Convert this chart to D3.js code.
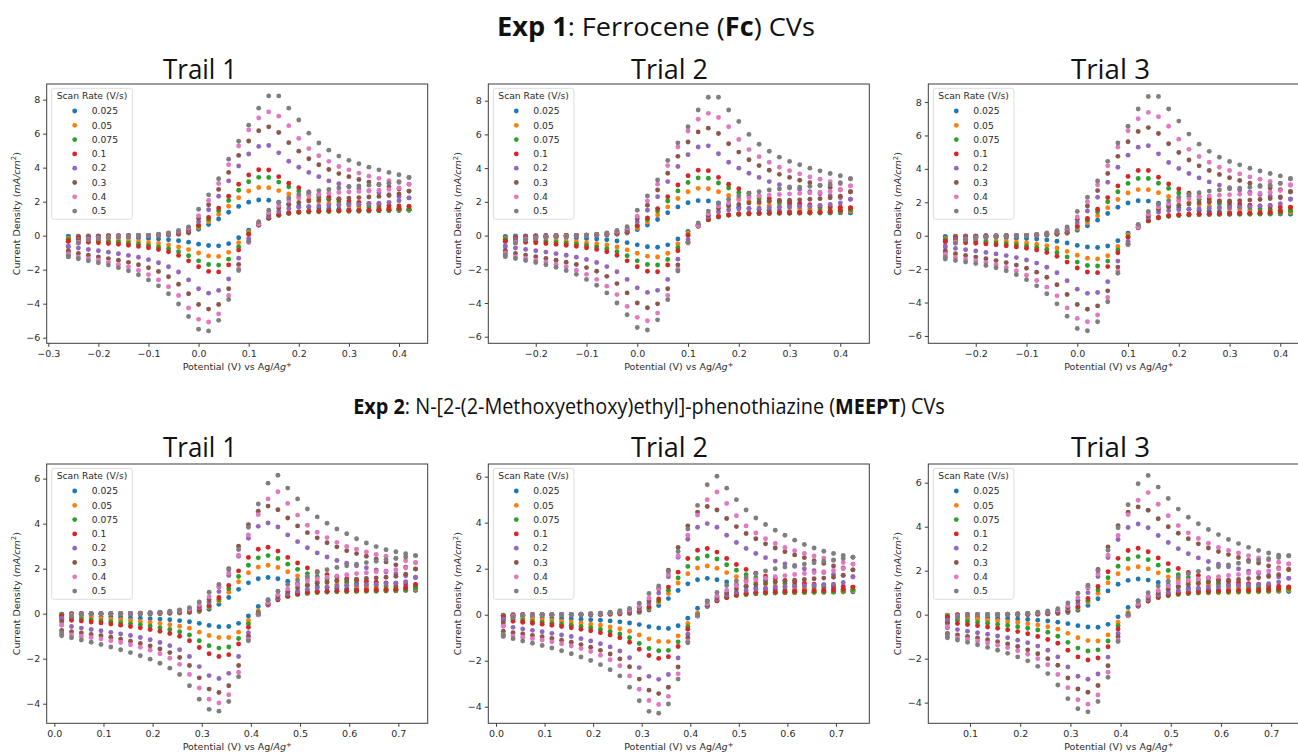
<!DOCTYPE html>
<html>
<head>
<meta charset="utf-8">
<script src="https://cdn.jsdelivr.net/npm/d3@7"></script>
<style>
  body { margin: 0; background: #fff; }
  svg { display: block; }
</style>
</head>
<body>
<svg width="1298" height="755"></svg>
<script>
// scan rates (legend) and their colours
const scanRates = ["0.025", "0.05", "0.075", "0.1", "0.2", "0.3", "0.4", "0.5"];
const seriesColors = ["#1f77b4", "#ff7f0e", "#2ca02c", "#d62728", "#9467bd", "#8c564b", "#e377c2", "#7f7f7f"];

const fcPotential = [-0.26,-0.24,-0.22,-0.2,-0.18,-0.16,-0.14,-0.12,-0.1,-0.08,-0.06,-0.04,-0.02,0,0.02,0.04,0.06,0.08,0.1,0.12,0.14,0.16,0.18,0.2,0.22,0.24,0.26,0.28,0.3,0.32,0.34,0.36,0.38,0.4,0.42];
const meeptPotential = [0.015,0.035,0.055,0.075,0.095,0.115,0.135,0.155,0.175,0.195,0.215,0.235,0.255,0.275,0.295,0.315,0.335,0.355,0.375,0.395,0.415,0.435,0.455,0.475,0.495,0.515,0.535,0.555,0.575,0.595,0.615,0.635,0.655,0.675,0.695,0.715,0.735];
const meeptPotentialT3 = [0.055,0.075,0.095,0.115,0.135,0.155,0.175,0.195,0.215,0.235,0.255,0.275,0.295,0.315,0.335,0.355,0.375,0.395,0.415,0.435,0.455,0.475,0.495,0.515,0.535,0.555,0.575,0.595,0.615,0.635,0.655,0.675,0.695,0.715,0.735];

// current density (mA/cm2), one row per scan rate; forward = anodic sweep, reverse = cathodic sweep
const fcTrial1Forward = [
  [-0.05,-0.03,-0.02,-0.01,0,0,0,0,0.01,0.02,0.04,0.08,0.15,0.38,0.65,0.98,1.38,1.72,1.97,2.1,2.08,1.97,1.85,1.75,1.68,1.62,1.58,1.55,1.53,1.52,1.51,1.5,1.5,1.5,1.5],
  [-0.17,-0.08,-0.05,-0.03,-0.02,-0.01,0,0,0.01,0.03,0.06,0.1,0.18,0.48,0.83,1.25,1.73,2.23,2.63,2.83,2.82,2.65,2.45,2.27,2.12,2.0,1.9,1.82,1.75,1.7,1.65,1.61,1.58,1.55,1.52],
  [-0.24,-0.1,-0.06,-0.04,-0.02,-0.01,0,0.01,0.02,0.04,0.07,0.12,0.2,0.57,0.97,1.47,2.07,2.67,3.17,3.43,3.42,3.15,2.87,2.62,2.42,2.25,2.12,2.0,1.9,1.82,1.75,1.69,1.64,1.6,1.56],
  [-0.33,-0.12,-0.07,-0.04,-0.02,-0.01,0,0.01,0.02,0.04,0.08,0.13,0.22,0.62,1.07,1.62,2.32,3.02,3.57,3.88,3.86,3.47,3.08,2.82,2.57,2.4,2.26,2.14,2.04,1.96,1.89,1.83,1.78,1.75,1.72],
  [-0.62,-0.22,-0.12,-0.08,-0.05,-0.03,-0.02,0,0.02,0.05,0.1,0.18,0.3,0.82,1.52,2.32,3.22,4.1,4.8,5.25,5.3,4.87,4.38,4.02,3.72,3.47,3.22,3.05,2.9,2.78,2.64,2.52,2.41,2.3,2.22],
  [-0.9,-0.3,-0.18,-0.12,-0.08,-0.05,-0.03,-0.01,0.02,0.06,0.12,0.22,0.38,1.02,1.82,2.72,3.72,4.72,5.57,6.17,6.4,6.07,5.47,4.97,4.52,4.17,3.89,3.65,3.47,3.3,3.15,3.0,2.87,2.74,2.62],
  [-1.08,-0.38,-0.22,-0.15,-0.1,-0.06,-0.04,-0.02,0.02,0.07,0.14,0.26,0.45,1.17,2.07,3.07,4.17,5.27,6.22,6.92,7.28,7.03,6.47,5.72,5.12,4.7,4.37,4.07,3.87,3.68,3.5,3.37,3.24,3.12,3.02],
  [-1.2,-0.45,-0.26,-0.18,-0.12,-0.08,-0.05,-0.02,0.02,0.08,0.16,0.3,0.52,1.55,2.4,3.35,4.5,5.55,6.5,7.5,8.22,8.22,7.5,6.8,6.03,5.45,5.03,4.68,4.43,4.23,4.03,3.87,3.72,3.58,3.42]
];
const fcTrial1Reverse = [
  [-0.05,-0.06,-0.07,-0.08,-0.09,-0.1,-0.12,-0.14,-0.16,-0.19,-0.24,-0.3,-0.38,-0.5,-0.58,-0.6,-0.47,-0.12,0.32,0.72,1.02,1.2,1.32,1.38,1.42,1.44,1.45,1.46,1.46,1.47,1.47,1.47,1.48,1.48,1.49],
  [-0.16,-0.18,-0.2,-0.22,-0.25,-0.28,-0.31,-0.35,-0.4,-0.46,-0.54,-0.66,-0.82,-1.02,-1.19,-1.22,-0.98,-0.42,0.22,0.72,1.03,1.22,1.33,1.39,1.42,1.44,1.45,1.46,1.46,1.47,1.47,1.48,1.49,1.5,1.52],
  [-0.23,-0.26,-0.29,-0.32,-0.35,-0.39,-0.44,-0.5,-0.57,-0.66,-0.77,-0.94,-1.18,-1.48,-1.7,-1.73,-1.38,-0.66,0.12,0.68,1.02,1.2,1.3,1.36,1.39,1.41,1.42,1.43,1.44,1.44,1.45,1.46,1.48,1.52,1.56],
  [-0.33,-0.36,-0.39,-0.42,-0.46,-0.51,-0.56,-0.63,-0.71,-0.81,-0.95,-1.16,-1.48,-1.83,-2.1,-2.13,-1.72,-0.85,0.07,0.68,1.04,1.23,1.34,1.4,1.43,1.45,1.46,1.47,1.48,1.49,1.5,1.52,1.55,1.61,1.72],
  [-0.65,-0.73,-0.81,-0.89,-0.97,-1.06,-1.16,-1.27,-1.41,-1.59,-1.83,-2.14,-2.6,-3.12,-3.38,-3.22,-2.55,-1.33,-0.18,0.62,1.12,1.42,1.58,1.67,1.72,1.75,1.78,1.8,1.82,1.84,1.87,1.91,1.96,2.05,2.22],
  [-0.95,-1.05,-1.15,-1.25,-1.35,-1.45,-1.57,-1.71,-1.89,-2.11,-2.42,-2.86,-3.42,-4.05,-4.32,-4.05,-3.12,-1.7,-0.35,0.62,1.25,1.62,1.82,1.95,2.04,2.1,2.15,2.18,2.21,2.24,2.27,2.31,2.36,2.45,2.62],
  [-1.15,-1.25,-1.35,-1.45,-1.56,-1.69,-1.84,-2.04,-2.29,-2.6,-3.0,-3.52,-4.25,-4.92,-5.08,-4.6,-3.52,-1.95,-0.4,0.68,1.35,1.78,2.05,2.22,2.35,2.44,2.5,2.54,2.57,2.6,2.63,2.67,2.72,2.8,3.02],
  [-1.25,-1.36,-1.48,-1.6,-1.73,-1.88,-2.07,-2.3,-2.6,-2.95,-3.42,-4.02,-4.75,-5.5,-5.6,-4.98,-3.75,-2.05,-0.35,0.82,1.5,1.95,2.22,2.42,2.55,2.65,2.72,2.8,2.86,2.92,2.97,3.02,3.08,3.18,3.42]
];

const fcTrial2Forward = [
  [-0.06,-0.03,-0.02,-0.01,0,0,0,0,0.01,0.02,0.04,0.08,0.15,0.35,0.62,0.95,1.35,1.7,1.95,2.07,2.05,1.93,1.8,1.68,1.6,1.54,1.5,1.46,1.43,1.41,1.39,1.38,1.37,1.36,1.35],
  [-0.18,-0.08,-0.05,-0.03,-0.02,-0.01,0,0,0.01,0.03,0.06,0.1,0.18,0.45,0.8,1.22,1.7,2.2,2.6,2.8,2.78,2.6,2.38,2.18,2.02,1.9,1.8,1.72,1.66,1.6,1.56,1.53,1.5,1.47,1.45],
  [-0.25,-0.1,-0.06,-0.04,-0.02,-0.01,0,0.01,0.02,0.04,0.07,0.12,0.2,0.55,0.95,1.45,2.05,2.65,3.15,3.42,3.4,3.12,2.82,2.56,2.35,2.18,2.05,1.94,1.85,1.78,1.72,1.67,1.63,1.59,1.55],
  [-0.34,-0.12,-0.07,-0.04,-0.02,-0.01,0,0.01,0.02,0.04,0.08,0.13,0.22,0.6,1.05,1.6,2.3,3.0,3.55,3.87,3.85,3.45,3.05,2.78,2.52,2.34,2.2,2.08,1.98,1.9,1.83,1.77,1.72,1.68,1.65],
  [-0.6,-0.22,-0.12,-0.08,-0.05,-0.03,-0.02,0,0.02,0.05,0.1,0.18,0.3,0.8,1.5,2.3,3.2,4.1,4.8,5.25,5.32,4.85,4.35,4.0,3.7,3.45,3.2,3.02,2.88,2.75,2.6,2.48,2.36,2.25,2.15],
  [-0.88,-0.3,-0.18,-0.12,-0.08,-0.05,-0.03,-0.01,0.02,0.06,0.12,0.22,0.38,1.0,1.8,2.7,3.7,4.7,5.55,6.15,6.37,6.05,5.45,4.95,4.5,4.15,3.87,3.63,3.45,3.28,3.13,2.98,2.85,2.72,2.6],
  [-1.05,-0.38,-0.22,-0.15,-0.1,-0.06,-0.04,-0.02,0.02,0.07,0.14,0.26,0.45,1.15,2.05,3.05,4.15,5.25,6.2,6.9,7.25,7.0,6.45,5.7,5.1,4.68,4.35,4.05,3.85,3.66,3.48,3.34,3.2,3.07,2.95],
  [-1.15,-0.45,-0.26,-0.18,-0.12,-0.08,-0.05,-0.02,0.02,0.08,0.16,0.3,0.52,1.5,2.35,3.3,4.45,5.5,6.45,7.45,8.2,8.2,7.45,6.77,6.0,5.42,5.0,4.65,4.4,4.2,4.0,3.84,3.68,3.55,3.37]
];
const fcTrial2Reverse = [
  [-0.06,-0.07,-0.08,-0.09,-0.1,-0.11,-0.13,-0.15,-0.17,-0.2,-0.25,-0.32,-0.42,-0.55,-0.66,-0.69,-0.55,-0.2,0.25,0.65,0.95,1.12,1.22,1.28,1.31,1.32,1.33,1.33,1.33,1.34,1.34,1.34,1.34,1.35,1.35],
  [-0.18,-0.2,-0.22,-0.24,-0.27,-0.3,-0.33,-0.37,-0.42,-0.48,-0.56,-0.68,-0.85,-1.05,-1.23,-1.27,-1.05,-0.5,0.15,0.65,0.95,1.12,1.22,1.28,1.31,1.33,1.34,1.35,1.35,1.36,1.36,1.37,1.38,1.4,1.45],
  [-0.25,-0.28,-0.31,-0.34,-0.37,-0.41,-0.46,-0.51,-0.58,-0.67,-0.78,-0.95,-1.2,-1.5,-1.72,-1.75,-1.42,-0.72,0.05,0.6,0.93,1.1,1.2,1.25,1.28,1.3,1.31,1.32,1.32,1.33,1.34,1.35,1.37,1.42,1.53],
  [-0.34,-0.37,-0.4,-0.43,-0.47,-0.52,-0.57,-0.64,-0.72,-0.82,-0.96,-1.17,-1.5,-1.85,-2.12,-2.15,-1.75,-0.9,0.0,0.6,0.95,1.13,1.23,1.28,1.31,1.33,1.34,1.35,1.36,1.37,1.38,1.4,1.43,1.5,1.63],
  [-0.66,-0.74,-0.82,-0.9,-0.98,-1.07,-1.17,-1.28,-1.42,-1.6,-1.84,-2.15,-2.6,-3.1,-3.37,-3.25,-2.6,-1.4,-0.25,0.55,1.1,1.4,1.52,1.58,1.61,1.63,1.66,1.68,1.7,1.72,1.75,1.79,1.84,1.93,2.15],
  [-0.96,-1.06,-1.16,-1.26,-1.36,-1.46,-1.58,-1.72,-1.9,-2.12,-2.42,-2.85,-3.4,-4.0,-4.28,-4.05,-3.15,-1.75,-0.4,0.55,1.2,1.6,1.75,1.85,1.93,1.99,2.04,2.07,2.1,2.12,2.15,2.19,2.24,2.33,2.6],
  [-1.16,-1.26,-1.36,-1.46,-1.57,-1.7,-1.85,-2.05,-2.3,-2.6,-3.0,-3.5,-4.2,-4.85,-5.05,-4.6,-3.55,-2.0,-0.45,0.6,1.3,1.75,1.95,2.12,2.25,2.35,2.4,2.44,2.47,2.5,2.53,2.57,2.62,2.7,2.95],
  [-1.25,-1.36,-1.48,-1.6,-1.73,-1.88,-2.07,-2.3,-2.6,-2.95,-3.4,-4.0,-4.7,-5.45,-5.6,-5.0,-3.8,-2.1,-0.4,0.75,1.45,1.9,2.15,2.35,2.5,2.6,2.7,2.76,2.82,2.87,2.92,2.97,3.03,3.13,3.37]
];

const fcTrial3Forward = [
  [-0.06,-0.03,-0.02,-0.01,0,0,0,0,0.01,0.02,0.04,0.08,0.15,0.33,0.6,0.93,1.33,1.7,1.96,2.09,2.07,1.94,1.8,1.67,1.58,1.51,1.46,1.42,1.39,1.37,1.35,1.33,1.32,1.31,1.3],
  [-0.18,-0.08,-0.05,-0.03,-0.02,-0.01,0,0,0.01,0.03,0.06,0.1,0.18,0.43,0.78,1.2,1.68,2.17,2.56,2.76,2.75,2.57,2.35,2.14,1.98,1.86,1.76,1.68,1.62,1.56,1.52,1.48,1.45,1.42,1.4],
  [-0.25,-0.1,-0.06,-0.04,-0.02,-0.01,0,0.01,0.02,0.04,0.07,0.12,0.2,0.53,0.93,1.43,2.03,2.63,3.13,3.42,3.42,3.14,2.83,2.56,2.34,2.16,2.02,1.91,1.82,1.74,1.67,1.61,1.57,1.53,1.5],
  [-0.35,-0.12,-0.07,-0.04,-0.02,-0.01,0,0.01,0.02,0.04,0.08,0.13,0.22,0.58,1.03,1.58,2.28,2.98,3.55,3.9,3.9,3.5,3.1,2.8,2.54,2.35,2.2,2.08,1.98,1.9,1.83,1.78,1.74,1.72,1.7],
  [-0.62,-0.22,-0.12,-0.08,-0.05,-0.03,-0.02,0,0.02,0.05,0.1,0.18,0.3,0.78,1.48,2.3,3.2,4.1,4.82,5.3,5.38,4.9,4.38,4.02,3.72,3.46,3.22,3.03,2.88,2.74,2.6,2.47,2.36,2.27,2.2],
  [-0.9,-0.3,-0.18,-0.12,-0.08,-0.05,-0.03,-0.01,0.02,0.06,0.12,0.22,0.38,0.98,1.78,2.7,3.72,4.75,5.62,6.24,6.47,6.12,5.5,4.98,4.53,4.18,3.9,3.66,3.47,3.3,3.14,2.99,2.86,2.75,2.65],
  [-1.1,-0.38,-0.22,-0.15,-0.1,-0.06,-0.04,-0.02,0.02,0.07,0.14,0.26,0.45,1.12,2.03,3.05,4.18,5.3,6.28,7.0,7.38,7.12,6.55,5.78,5.17,4.74,4.4,4.1,3.9,3.7,3.52,3.38,3.25,3.14,3.05],
  [-1.3,-0.45,-0.26,-0.18,-0.12,-0.08,-0.05,-0.02,0.02,0.08,0.16,0.3,0.52,1.45,2.3,3.28,4.45,5.55,6.55,7.58,8.33,8.33,7.58,6.86,6.08,5.48,5.05,4.7,4.44,4.24,4.04,3.87,3.72,3.58,3.43]
];
const fcTrial3Reverse = [
  [-0.06,-0.07,-0.08,-0.09,-0.1,-0.11,-0.13,-0.15,-0.17,-0.2,-0.25,-0.33,-0.44,-0.58,-0.68,-0.71,-0.62,-0.3,0.15,0.58,0.9,1.08,1.18,1.23,1.26,1.27,1.28,1.28,1.28,1.29,1.29,1.29,1.29,1.3,1.3],
  [-0.19,-0.21,-0.23,-0.25,-0.28,-0.31,-0.35,-0.39,-0.44,-0.51,-0.6,-0.74,-0.94,-1.17,-1.35,-1.39,-1.2,-0.65,0.05,0.58,0.9,1.08,1.18,1.23,1.26,1.28,1.29,1.3,1.3,1.31,1.31,1.32,1.33,1.35,1.4],
  [-0.26,-0.29,-0.32,-0.35,-0.39,-0.43,-0.48,-0.54,-0.61,-0.7,-0.82,-1.0,-1.27,-1.58,-1.78,-1.81,-1.52,-0.85,-0.05,0.52,0.88,1.06,1.16,1.21,1.24,1.26,1.27,1.28,1.28,1.29,1.3,1.31,1.33,1.38,1.5],
  [-0.36,-0.39,-0.42,-0.45,-0.49,-0.54,-0.6,-0.67,-0.75,-0.86,-1.01,-1.23,-1.58,-1.93,-2.17,-2.21,-1.85,-1.02,-0.1,0.52,0.9,1.09,1.19,1.25,1.28,1.3,1.31,1.32,1.33,1.34,1.35,1.37,1.4,1.47,1.68],
  [-0.68,-0.76,-0.84,-0.92,-1.0,-1.09,-1.19,-1.31,-1.45,-1.64,-1.89,-2.22,-2.7,-3.2,-3.45,-3.4,-2.75,-1.52,-0.35,0.48,1.1,1.4,1.5,1.56,1.59,1.62,1.65,1.67,1.69,1.71,1.74,1.78,1.83,1.92,2.18],
  [-0.98,-1.08,-1.18,-1.28,-1.38,-1.49,-1.61,-1.76,-1.95,-2.18,-2.49,-2.94,-3.52,-4.12,-4.4,-4.2,-3.3,-1.88,-0.5,0.48,1.18,1.58,1.72,1.82,1.9,1.97,2.02,2.05,2.08,2.1,2.13,2.17,2.22,2.32,2.62],
  [-1.2,-1.3,-1.4,-1.5,-1.61,-1.74,-1.9,-2.1,-2.36,-2.68,-3.08,-3.6,-4.32,-4.95,-5.15,-4.75,-3.7,-2.12,-0.55,0.52,1.3,1.72,1.92,2.08,2.22,2.32,2.38,2.42,2.45,2.48,2.51,2.55,2.6,2.7,3.02],
  [-1.4,-1.48,-1.57,-1.67,-1.78,-1.92,-2.1,-2.33,-2.63,-3.0,-3.47,-4.08,-4.82,-5.55,-5.69,-5.15,-3.95,-2.25,-0.5,0.68,1.45,1.88,2.1,2.3,2.45,2.57,2.67,2.74,2.8,2.85,2.9,2.95,3.02,3.13,3.4]
];

const meeptTrial1Forward = [
  [-0.02,0,0,0,0,0,0,0,0,0,0.01,0.02,0.03,0.05,0.1,0.2,0.42,0.72,1.08,1.37,1.55,1.61,1.55,1.44,1.33,1.25,1.2,1.16,1.13,1.11,1.09,1.08,1.07,1.06,1.05,1.05,1.04],
  [-0.04,0,0,0,0,0,0,0,0,0,0.01,0.02,0.04,0.07,0.14,0.28,0.55,0.95,1.42,1.82,2.07,2.15,2.05,1.86,1.68,1.54,1.44,1.37,1.31,1.26,1.22,1.19,1.17,1.15,1.13,1.11,1.1],
  [-0.06,-0.01,0,0,0,0,0,0,0,0.01,0.02,0.03,0.05,0.08,0.16,0.32,0.63,1.1,1.65,2.15,2.48,2.58,2.45,2.2,1.97,1.78,1.64,1.54,1.46,1.4,1.35,1.3,1.27,1.24,1.21,1.18,1.16],
  [-0.1,-0.02,0,0,0,0,0,0,0.01,0.01,0.02,0.04,0.06,0.09,0.18,0.36,0.72,1.25,1.9,2.5,2.86,2.95,2.78,2.5,2.25,2.03,1.86,1.73,1.63,1.55,1.49,1.44,1.4,1.37,1.34,1.32,1.3],
  [-0.2,-0.04,-0.01,0,0,0,0,0,0.01,0.02,0.04,0.06,0.09,0.14,0.26,0.5,0.98,1.7,2.55,3.35,3.88,4.03,3.85,3.5,3.2,2.93,2.7,2.52,2.36,2.24,2.13,2.04,1.94,1.85,1.76,1.68,1.62],
  [-0.35,-0.06,-0.02,0,0,0,0,0.01,0.02,0.03,0.05,0.08,0.12,0.18,0.33,0.62,1.18,2.0,3.0,3.95,4.55,4.78,4.62,4.25,3.9,3.6,3.37,3.15,2.97,2.8,2.67,2.55,2.42,2.3,2.17,2.07,1.99],
  [-0.5,-0.08,-0.02,0,0,0,0,0.01,0.02,0.04,0.06,0.09,0.14,0.21,0.4,0.75,1.2,1.8,2.6,3.5,4.4,5.1,5.42,4.9,4.38,3.93,3.62,3.38,3.17,2.99,2.86,2.74,2.63,2.55,2.45,2.35,2.28],
  [-0.85,-0.12,-0.03,-0.01,0,0,0,0.01,0.02,0.04,0.07,0.11,0.17,0.27,0.52,0.95,1.3,1.95,2.85,3.84,4.87,5.8,6.15,5.58,5.1,4.65,4.3,4.02,3.76,3.55,3.33,3.14,2.98,2.84,2.75,2.66,2.58]
];
const meeptTrial1Reverse = [
  [-0.02,-0.05,-0.08,-0.1,-0.12,-0.14,-0.16,-0.18,-0.2,-0.22,-0.24,-0.27,-0.31,-0.36,-0.43,-0.52,-0.58,-0.57,-0.43,-0.1,0.32,0.62,0.8,0.9,0.95,0.97,0.98,0.99,1.0,1.0,1.0,1.01,1.01,1.02,1.02,1.03,1.04],
  [-0.1,-0.12,-0.15,-0.18,-0.21,-0.24,-0.27,-0.3,-0.34,-0.38,-0.43,-0.49,-0.56,-0.65,-0.82,-0.97,-1.06,-1.06,-0.82,-0.3,0.12,0.45,0.65,0.78,0.86,0.91,0.94,0.96,0.97,0.98,0.99,1.0,1.0,1.01,1.02,1.04,1.09],
  [-0.16,-0.2,-0.24,-0.28,-0.32,-0.36,-0.4,-0.44,-0.49,-0.55,-0.62,-0.7,-0.8,-0.95,-1.2,-1.42,-1.53,-1.48,-1.1,-0.45,0.05,0.4,0.62,0.76,0.85,0.9,0.94,0.96,0.98,0.99,1.0,1.01,1.01,1.02,1.03,1.06,1.15],
  [-0.25,-0.29,-0.33,-0.37,-0.41,-0.46,-0.51,-0.57,-0.63,-0.7,-0.78,-0.88,-1.0,-1.2,-1.5,-1.78,-1.9,-1.82,-1.35,-0.6,0.0,0.38,0.62,0.78,0.88,0.94,0.98,1.0,1.02,1.03,1.04,1.05,1.06,1.07,1.09,1.14,1.28],
  [-0.5,-0.57,-0.64,-0.7,-0.76,-0.83,-0.9,-0.97,-1.06,-1.16,-1.28,-1.42,-1.6,-1.9,-2.35,-2.75,-2.88,-2.65,-1.9,-0.85,-0.05,0.4,0.68,0.87,1.0,1.08,1.14,1.18,1.22,1.25,1.27,1.29,1.31,1.33,1.36,1.42,1.6],
  [-0.75,-0.8,-0.86,-0.92,-0.98,-1.05,-1.13,-1.22,-1.32,-1.43,-1.57,-1.73,-1.95,-2.3,-2.85,-3.35,-3.5,-3.2,-2.3,-1.0,-0.05,0.45,0.75,0.98,1.15,1.27,1.35,1.41,1.46,1.5,1.53,1.56,1.59,1.62,1.66,1.75,1.98],
  [-0.92,-0.95,-1.0,-1.06,-1.12,-1.2,-1.28,-1.38,-1.49,-1.62,-1.78,-1.98,-2.25,-2.7,-3.3,-3.8,-3.97,-3.6,-2.6,-1.15,-0.05,0.5,0.85,1.1,1.3,1.45,1.55,1.62,1.68,1.73,1.78,1.82,1.86,1.9,1.95,2.03,2.26],
  [-0.98,-1.07,-1.17,-1.27,-1.37,-1.48,-1.6,-1.73,-1.87,-2.02,-2.2,-2.42,-2.7,-3.2,-3.8,-4.25,-4.33,-3.9,-2.8,-1.2,0.0,0.6,1.0,1.3,1.5,1.65,1.82,1.95,2.05,2.13,2.2,2.27,2.33,2.4,2.46,2.52,2.58]
];

const meeptTrial2Forward = [
  [-0.02,0,0,0,0,0,0,0,0,0,0.01,0.02,0.03,0.05,0.1,0.2,0.4,0.7,1.05,1.34,1.52,1.58,1.52,1.42,1.3,1.22,1.16,1.12,1.09,1.07,1.05,1.04,1.03,1.02,1.01,1.0,1.0],
  [-0.04,0,0,0,0,0,0,0,0,0,0.01,0.02,0.04,0.07,0.14,0.27,0.53,0.92,1.38,1.78,2.03,2.12,2.02,1.83,1.65,1.5,1.4,1.32,1.26,1.21,1.17,1.14,1.12,1.1,1.08,1.06,1.05],
  [-0.06,-0.01,0,0,0,0,0,0,0,0.01,0.02,0.03,0.05,0.08,0.15,0.3,0.6,1.06,1.6,2.1,2.44,2.55,2.42,2.17,1.93,1.74,1.6,1.5,1.42,1.36,1.3,1.26,1.22,1.19,1.16,1.13,1.1],
  [-0.1,-0.02,0,0,0,0,0,0,0.01,0.01,0.02,0.04,0.06,0.09,0.17,0.34,0.68,1.2,1.85,2.44,2.8,2.88,2.72,2.44,2.18,1.97,1.8,1.67,1.57,1.49,1.42,1.37,1.33,1.29,1.26,1.23,1.2],
  [-0.2,-0.04,-0.01,0,0,0,0,0,0.01,0.02,0.04,0.06,0.09,0.14,0.25,0.48,0.94,1.65,2.5,3.28,3.8,3.96,3.8,3.45,3.14,2.88,2.66,2.48,2.33,2.21,2.1,2.0,1.91,1.83,1.75,1.7,1.65],
  [-0.35,-0.06,-0.02,0,0,0,0,0.01,0.02,0.03,0.05,0.08,0.12,0.18,0.32,0.6,1.13,1.93,2.92,3.86,4.46,4.7,4.55,4.18,3.83,3.53,3.3,3.08,2.9,2.74,2.6,2.48,2.35,2.23,2.12,2.03,1.95],
  [-0.5,-0.08,-0.02,0,0,0,0,0.01,0.02,0.04,0.06,0.09,0.14,0.21,0.38,0.72,1.15,1.75,2.55,3.45,4.33,5.0,5.33,4.83,4.3,3.86,3.55,3.3,3.1,2.92,2.78,2.66,2.55,2.46,2.36,2.27,2.2],
  [-0.85,-0.12,-0.03,-0.01,0,0,0,0.01,0.02,0.04,0.07,0.11,0.17,0.27,0.5,0.92,1.25,1.88,2.75,3.72,4.75,5.65,6.02,5.5,5.0,4.55,4.2,3.92,3.67,3.45,3.24,3.05,2.9,2.76,2.66,2.57,2.5]
];
const meeptTrial2Reverse = [
  [-0.02,-0.05,-0.08,-0.1,-0.12,-0.14,-0.16,-0.18,-0.2,-0.22,-0.24,-0.27,-0.31,-0.36,-0.43,-0.52,-0.58,-0.6,-0.48,-0.15,0.28,0.6,0.78,0.87,0.92,0.94,0.95,0.96,0.96,0.97,0.97,0.97,0.98,0.98,0.98,0.99,1.0],
  [-0.1,-0.13,-0.16,-0.19,-0.22,-0.25,-0.28,-0.32,-0.36,-0.41,-0.46,-0.53,-0.61,-0.72,-0.88,-1.05,-1.16,-1.17,-0.92,-0.38,0.08,0.42,0.62,0.75,0.83,0.88,0.91,0.93,0.94,0.95,0.96,0.96,0.97,0.97,0.98,1.0,1.05],
  [-0.17,-0.21,-0.25,-0.29,-0.33,-0.37,-0.41,-0.46,-0.51,-0.57,-0.64,-0.73,-0.84,-1.0,-1.25,-1.47,-1.57,-1.55,-1.18,-0.52,0.0,0.37,0.6,0.74,0.83,0.88,0.91,0.93,0.95,0.96,0.97,0.98,0.98,0.99,1.0,1.03,1.1],
  [-0.25,-0.29,-0.33,-0.37,-0.41,-0.46,-0.51,-0.57,-0.63,-0.7,-0.78,-0.88,-1.0,-1.2,-1.5,-1.77,-1.9,-1.83,-1.38,-0.63,-0.03,0.36,0.6,0.76,0.86,0.92,0.96,0.98,1.0,1.01,1.02,1.03,1.04,1.05,1.07,1.11,1.2],
  [-0.48,-0.55,-0.62,-0.68,-0.74,-0.81,-0.88,-0.95,-1.04,-1.14,-1.26,-1.4,-1.58,-1.87,-2.3,-2.68,-2.81,-2.6,-1.88,-0.85,-0.06,0.38,0.66,0.85,0.97,1.05,1.11,1.15,1.19,1.22,1.24,1.26,1.28,1.3,1.33,1.4,1.65],
  [-0.72,-0.78,-0.84,-0.9,-0.96,-1.03,-1.11,-1.2,-1.3,-1.41,-1.55,-1.71,-1.92,-2.26,-2.8,-3.28,-3.43,-3.15,-2.27,-1.0,-0.06,0.43,0.73,0.95,1.12,1.24,1.32,1.38,1.43,1.47,1.5,1.53,1.56,1.59,1.63,1.72,1.95],
  [-0.9,-0.93,-0.98,-1.04,-1.1,-1.18,-1.26,-1.36,-1.47,-1.6,-1.76,-1.96,-2.22,-2.66,-3.24,-3.73,-3.9,-3.55,-2.57,-1.15,-0.06,0.48,0.82,1.07,1.27,1.42,1.52,1.59,1.65,1.7,1.75,1.79,1.83,1.87,1.92,2.0,2.2],
  [-0.95,-1.04,-1.14,-1.24,-1.34,-1.45,-1.57,-1.7,-1.84,-1.99,-2.17,-2.39,-2.66,-3.15,-3.74,-4.2,-4.28,-3.88,-2.8,-1.22,-0.02,0.57,0.97,1.27,1.47,1.62,1.78,1.9,2.0,2.07,2.14,2.2,2.26,2.32,2.38,2.44,2.5]
];

const meeptTrial3Forward = [
  [-0.02,0,0,0,0,0,0,0,0.01,0.02,0.03,0.05,0.1,0.2,0.42,0.72,1.08,1.38,1.56,1.62,1.57,1.46,1.35,1.27,1.21,1.17,1.14,1.12,1.1,1.09,1.08,1.07,1.06,1.06,1.05],
  [-0.04,0,0,0,0,0,0,0,0.01,0.02,0.04,0.07,0.14,0.28,0.56,0.97,1.45,1.86,2.1,2.18,2.08,1.9,1.72,1.58,1.47,1.4,1.34,1.29,1.25,1.22,1.19,1.17,1.15,1.13,1.12],
  [-0.06,-0.01,0,0,0,0,0,0.01,0.02,0.03,0.05,0.08,0.16,0.32,0.64,1.12,1.68,2.2,2.53,2.64,2.5,2.25,2.01,1.82,1.68,1.57,1.49,1.42,1.37,1.32,1.28,1.25,1.22,1.2,1.18],
  [-0.12,-0.02,0,0,0,0,0.01,0.01,0.02,0.04,0.06,0.09,0.18,0.37,0.74,1.28,1.95,2.56,2.92,3.02,2.86,2.58,2.32,2.1,1.92,1.78,1.67,1.59,1.52,1.46,1.41,1.37,1.33,1.29,1.26],
  [-0.25,-0.04,-0.01,0,0,0,0.01,0.02,0.04,0.06,0.09,0.14,0.26,0.51,1.0,1.73,2.6,3.42,3.96,4.12,3.95,3.6,3.28,3.0,2.77,2.58,2.42,2.29,2.18,2.08,1.98,1.88,1.79,1.71,1.65],
  [-0.4,-0.06,-0.02,0,0,0.01,0.02,0.03,0.05,0.08,0.12,0.18,0.34,0.64,1.22,2.05,3.08,4.05,4.66,4.9,4.75,4.36,4.0,3.7,3.45,3.22,3.03,2.87,2.73,2.6,2.47,2.35,2.22,2.12,2.05],
  [-0.55,-0.08,-0.02,0,0,0.01,0.02,0.04,0.06,0.09,0.14,0.21,0.41,0.77,1.25,1.85,2.7,3.6,4.55,5.2,5.55,5.02,4.5,4.05,3.72,3.46,3.25,3.06,2.92,2.8,2.68,2.58,2.48,2.38,2.3],
  [-0.9,-0.12,-0.03,-0.01,0,0.01,0.02,0.04,0.07,0.11,0.17,0.27,0.53,0.97,1.34,2.0,2.93,3.95,5.0,5.95,6.33,5.8,5.28,4.8,4.43,4.13,3.87,3.64,3.42,3.23,3.06,2.92,2.8,2.7,2.68]
];
const meeptTrial3Reverse = [
  [-0.05,-0.08,-0.1,-0.12,-0.14,-0.16,-0.18,-0.2,-0.22,-0.25,-0.29,-0.34,-0.41,-0.5,-0.56,-0.57,-0.44,-0.1,0.33,0.64,0.83,0.93,0.98,1.01,1.03,1.04,1.05,1.05,1.05,1.06,1.06,1.06,1.07,1.07,1.08],
  [-0.1,-0.14,-0.18,-0.21,-0.25,-0.28,-0.32,-0.36,-0.41,-0.47,-0.55,-0.66,-0.85,-1.05,-1.18,-1.2,-0.92,-0.34,0.1,0.45,0.67,0.8,0.88,0.93,0.96,0.98,0.99,1.0,1.01,1.02,1.03,1.04,1.05,1.07,1.12],
  [-0.2,-0.25,-0.3,-0.35,-0.39,-0.44,-0.49,-0.55,-0.62,-0.7,-0.8,-0.98,-1.26,-1.52,-1.65,-1.6,-1.2,-0.5,0.03,0.4,0.62,0.77,0.86,0.92,0.96,0.99,1.01,1.02,1.03,1.04,1.05,1.06,1.08,1.11,1.18],
  [-0.35,-0.4,-0.45,-0.5,-0.56,-0.62,-0.69,-0.77,-0.87,-0.99,-1.13,-1.3,-1.62,-1.92,-2.06,-1.97,-1.46,-0.65,0.0,0.38,0.62,0.79,0.9,0.97,1.01,1.04,1.06,1.08,1.09,1.1,1.11,1.12,1.14,1.17,1.25],
  [-0.6,-0.68,-0.75,-0.82,-0.89,-0.97,-1.05,-1.16,-1.28,-1.43,-1.62,-1.92,-2.38,-2.8,-2.94,-2.7,-1.93,-0.86,-0.05,0.4,0.68,0.88,1.01,1.1,1.16,1.2,1.24,1.27,1.3,1.32,1.34,1.37,1.41,1.48,1.65],
  [-0.85,-0.92,-0.99,-1.06,-1.14,-1.23,-1.33,-1.45,-1.6,-1.78,-2.0,-2.3,-2.88,-3.38,-3.53,-3.22,-2.32,-1.0,-0.05,0.45,0.77,1.0,1.16,1.28,1.37,1.43,1.48,1.53,1.57,1.6,1.64,1.68,1.73,1.82,2.05],
  [-1.0,-1.06,-1.13,-1.2,-1.29,-1.39,-1.5,-1.64,-1.8,-2.0,-2.28,-2.72,-3.32,-3.87,-4.07,-3.65,-2.62,-1.15,-0.05,0.5,0.85,1.1,1.3,1.45,1.55,1.62,1.68,1.73,1.78,1.83,1.88,1.93,1.99,2.08,2.3],
  [-1.05,-1.15,-1.26,-1.37,-1.49,-1.62,-1.76,-1.92,-2.1,-2.35,-2.68,-3.2,-3.82,-4.28,-4.42,-3.95,-2.85,-1.22,0.0,0.6,1.0,1.3,1.52,1.7,1.85,1.97,2.08,2.18,2.26,2.34,2.41,2.48,2.54,2.6,2.68]
];

// axis tick labels
const fcTicksTrial1 = [-0.3, -0.2, -0.1, 0, 0.1, 0.2, 0.3, 0.4];
const fcTicks = [-0.2, -0.1, 0, 0.1, 0.2, 0.3, 0.4];
const meeptTicks = [0, 0.1, 0.2, 0.3, 0.4, 0.5, 0.6, 0.7];
const meeptTicksTrial3 = [0.1, 0.2, 0.3, 0.4, 0.5, 0.6, 0.7];
const fcCurrentTicks = [-6, -4, -2, 0, 2, 4, 6, 8];
const meeptCurrentTicks = [-4, -2, 0, 2, 4, 6];

var svg = d3.select("svg");
var axisFont = "'DejaVu Sans', Verdana, sans-serif";
var titleFont = "'Open Sans', 'Noto Sans', sans-serif";

var panelLeft = [46.7, 488.3, 928.3];
var rowTop = [84, 464];
var panelWidth = 381, panelHeight = 259.3;

var panels = [
    {row: 0, col: 0, potential: fcPotential, forward: fcTrial1Forward, reverse: fcTrial1Reverse,
        xDomain: [-0.3032, 0.4573], yDomain: [-6.33, 8.92], xTicks: fcTicksTrial1, yTicks: fcCurrentTicks},
    {row: 0, col: 1, potential: fcPotential, forward: fcTrial2Forward, reverse: fcTrial2Reverse,
        xDomain: [-0.2935, 0.4571], yDomain: [-6.39, 8.99], xTicks: fcTicks, yTicks: fcCurrentTicks},
    {row: 0, col: 2, potential: fcPotential, forward: fcTrial3Forward, reverse: fcTrial3Reverse,
        xDomain: [-0.2935, 0.4571], yDomain: [-6.44, 9.08], xTicks: fcTicks, yTicks: fcCurrentTicks},
    {row: 1, col: 0, potential: meeptPotential, forward: meeptTrial1Forward, reverse: meeptTrial1Reverse,
        xDomain: [-0.0155, 0.7598], yDomain: [-4.87, 6.65], xTicks: meeptTicks, yTicks: meeptCurrentTicks},
    {row: 1, col: 1, potential: meeptPotential, forward: meeptTrial2Forward, reverse: meeptTrial2Reverse,
        xDomain: [-0.0159, 0.7687], yDomain: [-4.72, 6.55], xTicks: meeptTicks, yTicks: meeptCurrentTicks},
    {row: 1, col: 2, potential: meeptPotentialT3, forward: meeptTrial3Forward, reverse: meeptTrial3Reverse,
        xDomain: [0.0169, 0.776], yDomain: [-4.94, 6.85], xTicks: meeptTicksTrial3, yTicks: meeptCurrentTicks}
];


function drawPanel(p) {
    var left = panelLeft[p.col], top = rowTop[p.row];
    var x = d3.scaleLinear().domain(p.xDomain).range([left, left + panelWidth]);
    var y = d3.scaleLinear().domain(p.yDomain).range([top + panelHeight, top]);
    var g = svg.append("g");

    // one scatter layer per scan rate, slowest first so 0.5 V/s ends up on top
    scanRates.forEach(function (rate, i) {
        var points = [];
        p.potential.forEach(function (v, k) {
            if (p.forward[i][k] !== undefined) points.push([v, p.forward[i][k]]);
        });
        p.potential.forEach(function (v, k) {
            if (p.reverse[i][k] !== undefined) points.push([v, p.reverse[i][k]]);
        });
        g.append("g")
            .selectAll("circle")
            .data(points)
            .enter().append("circle")
            .attr("cx", function (d) { return x(d[0]); })
            .attr("cy", function (d) { return y(d[1]); })
            .attr("r", 2.45)
            .attr("fill", seriesColors[i]);
    });

    g.append("rect")
        .attr("x", left).attr("y", top)
        .attr("width", panelWidth).attr("height", panelHeight)
        .attr("fill", "none").attr("stroke", "#3d3d3d").attr("stroke-width", 1);

    var xAxis = g.append("g")
        .attr("transform", "translate(0," + (top + panelHeight) + ")")
        .call(d3.axisBottom(x).tickValues(p.xTicks).tickFormat(d3.format(".1f")).tickSize(3.5).tickPadding(3));
    var yAxis = g.append("g")
        .attr("transform", "translate(" + left + ",0)")
        .call(d3.axisLeft(y).tickValues(p.yTicks).tickFormat(d3.format("d")).tickSize(3.5).tickPadding(3));

    [xAxis, yAxis].forEach(function (a) {
        a.select(".domain").remove();
        a.selectAll("line").attr("stroke", "#3d3d3d");
        a.selectAll("text").attr("fill", "#2b2b2b").style("font-family", axisFont).style("font-size", "9.5px");
    });

    // axis labels
    var xl = g.append("text")
        .attr("x", left + panelWidth / 2).attr("y", top + panelHeight + 26.8)
        .attr("text-anchor", "middle").attr("fill", "#2b2b2b")
        .style("font-family", axisFont).style("font-size", "9.5px");
    xl.append("tspan").text("Potential (V) vs Ag/");
    xl.append("tspan").style("font-style", "italic").text("Ag");
    xl.append("tspan").attr("dy", -3.6).style("font-size", "6.8px").style("font-style", "italic").text("+");

    var yl = g.append("text")
        .attr("transform", "translate(" + (left - 27) + "," + (top + panelHeight / 2) + ") rotate(-90)")
        .attr("text-anchor", "middle").attr("fill", "#2b2b2b")
        .style("font-family", axisFont).style("font-size", "9.5px");
    yl.append("tspan").text("Current Density (");
    yl.append("tspan").style("font-style", "italic").text("mA/cm");
    yl.append("tspan").attr("dy", -3.6).style("font-size", "6.8px").text("2");
    yl.append("tspan").attr("dy", 3.6).text(")");

    // legend
    var lg = g.append("g").attr("transform", "translate(" + (left + 5) + "," + (top + 4.3) + ")");
    lg.append("rect")
        .attr("width", 80.6).attr("height", 131).attr("rx", 2.5)
        .attr("fill", "#fff").attr("fill-opacity", 0.8)
        .attr("stroke", "#d4d4d4").attr("stroke-width", 0.8);
    lg.append("text")
        .attr("x", 40.3).attr("y", 10.7)
        .attr("text-anchor", "middle").attr("fill", "#2b2b2b")
        .style("font-family", axisFont).style("font-size", "9.2px")
        .text("Scan Rate (V/s)");
    scanRates.forEach(function (rate, i) {
        var cy = 22.7 + i * 14.3;
        lg.append("circle").attr("cx", 23).attr("cy", cy).attr("r", 2.4).attr("fill", seriesColors[i]);
        lg.append("text")
            .attr("x", 40).attr("y", cy + 3.3).attr("fill", "#2b2b2b")
            .style("font-family", axisFont).style("font-size", "9.2px")
            .text(rate);
    });
}

panels.forEach(drawPanel);

// headings: drawn at natural size, then squeezed horizontally to the measured width
function heading(parts, cx, baseline, size, width) {
    var t = svg.append("text")
        .attr("x", 0).attr("y", 0)
        .attr("text-anchor", "middle").attr("fill", "#111")
        .style("font-family", titleFont).style("font-size", size + "px");
    parts.forEach(function (part) {
        t.append("tspan").style("font-weight", part[1] ? 700 : 400).text(part[0]);
    });
    var w = t.node().getBBox().width || width;
    t.attr("transform", "translate(" + cx + "," + baseline + ") scale(" + (width / w) + ",1)");
}

heading([["Exp 1", true], [": Ferrocene (", false], ["Fc", true], [") CVs", false]], 656, 36, 26, 318);
heading([["Exp 2", true], [": N-[2-(2-Methoxyethoxy)ethyl]-phenothiazine (", false], ["MEEPT", true], [") CVs", false]], 649, 414, 21, 592);

var subtitles = ["Trail 1", "Trial 2", "Trial 3"];
var subtitleCenter = [200, 669.5, 1110.5];
var subtitleWidth = [74, 77, 79];
[78.5, 456.5].forEach(function (baseline) {
    subtitles.forEach(function (s, i) {
        heading([[s, false]], subtitleCenter[i], baseline, 28, subtitleWidth[i]);
    });
});
</script>
</body>
</html>
